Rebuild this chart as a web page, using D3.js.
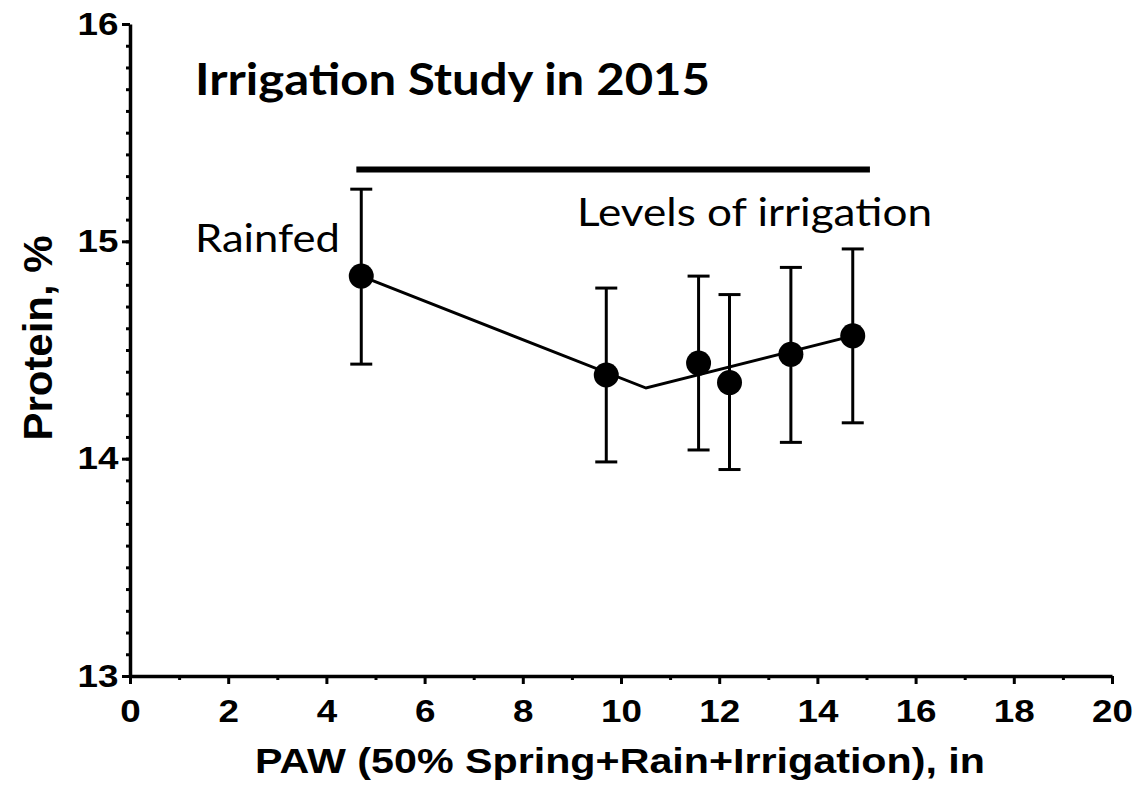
<!DOCTYPE html>
<html>
<head>
<meta charset="utf-8">
<script src="https://cdn.jsdelivr.net/npm/d3@7"></script>
<style>
  body { margin: 0; background: #fff; }
  .axis path, .axis line { stroke: #000; }
  .axis text { font-family: "Liberation Sans", Arial, sans-serif; font-weight: bold; fill: #000; }
</style>
</head>
<body>
<div class="center"></div>
<script>
// data
var paw     = [4.71, 9.70, 11.58, 12.21, 13.46, 14.72];
var protein = [14.84, 14.385, 14.44, 14.35, 14.48, 14.565];
var errLow  = [14.435, 13.985, 14.04, 13.95, 14.075, 14.165];
var errHigh = [15.24, 14.785, 14.84, 14.755, 14.88, 14.965];

// fitted linear-plateau line (breakpoint near 10.5)
var fitX = [4.71, 10.51, 14.72];
var fitY = [14.84, 14.325, 14.565];

// bar over the irrigated treatments
var barX = [4.61, 15.07];
var barY = 15.33;

var xTicks = [0, 2, 4, 6, 8, 10, 12, 14, 16, 18, 20];
var yTicks = [13, 14, 15, 16];

var width = 1138, height = 788;

var x = d3.scaleLinear().domain([0, 20]).range([130, 1112]);
var y = d3.scaleLinear().domain([13, 16]).range([676, 24]);

var svg = d3.select("div.center").append("svg")
    .attr("width", width)
    .attr("height", height);

// minor ticks
svg.append("g")
    .attr("class", "axis")
    .attr("transform", "translate(0," + y(13) + ")")
    .call(d3.axisBottom(x).tickValues(d3.range(1, 20, 2)).tickSize(4).tickFormat(""))
    .call(function(g) { g.select(".domain").remove(); })
    .selectAll("line").attr("stroke-width", 3);

svg.append("g")
    .attr("class", "axis")
    .attr("transform", "translate(" + x(0) + ",0)")
    .call(d3.axisLeft(y).tickValues(d3.range(13, 16.001, 0.1)).tickSize(4).tickFormat(""))
    .call(function(g) { g.select(".domain").remove(); })
    .selectAll("line").attr("stroke-width", 3);

// X axis
var xAxis = svg.append("g")
    .attr("class", "axis")
    .attr("transform", "translate(0," + y(13) + ")")
    .call(d3.axisBottom(x).tickValues(xTicks).tickSize(8).tickSizeOuter(0).tickPadding(15));
xAxis.select(".domain").attr("stroke-width", 3.5);
xAxis.selectAll("line").attr("stroke-width", 3);
xAxis.selectAll("text")
    .attr("font-size", 32)
    .attr("transform", "scale(1.15,1)");

// Y axis
var yAxis = svg.append("g")
    .attr("class", "axis")
    .attr("transform", "translate(" + x(0) + ",0)")
    .call(d3.axisLeft(y).tickValues(yTicks).tickSize(8).tickSizeOuter(0).tickPadding(2)
        .tickFormat(d3.format("d")));
yAxis.select(".domain").attr("stroke-width", 3.5);
yAxis.selectAll("line").attr("stroke-width", 3);
yAxis.selectAll("text")
    .attr("font-size", 32)
    .attr("transform", "scale(1.15,1)");

// axis titles
svg.append("text")
    .attr("x", 620)
    .attr("y", 773)
    .attr("text-anchor", "middle")
    .attr("textLength", 730)
    .attr("lengthAdjust", "spacingAndGlyphs")
    .style("font-family", "'Liberation Sans', Arial, sans-serif")
    .style("font-weight", "bold")
    .style("font-size", "35px")
    .text("PAW (50% Spring+Rain+Irrigation), in");

svg.append("text")
    .attr("transform", "translate(52,338) scale(1.18,1) rotate(-90)")
    .attr("text-anchor", "middle")
    .attr("textLength", 205)
    .attr("lengthAdjust", "spacingAndGlyphs")
    .style("font-family", "'Liberation Sans', Arial, sans-serif")
    .style("font-weight", "bold")
    .style("font-size", "35px")
    .text("Protein, %");

// title and annotations
svg.append("text")
    .attr("x", 195)
    .attr("y", 95)
    .attr("textLength", 515)
    .attr("lengthAdjust", "spacingAndGlyphs")
    .style("font-family", "Lato, 'Open Sans', sans-serif")
    .style("font-weight", "bold")
    .style("font-size", "44px")
    .text("Irrigation Study in 2015");

svg.append("text")
    .attr("x", 195)
    .attr("y", 252)
    .attr("textLength", 145)
    .attr("lengthAdjust", "spacingAndGlyphs")
    .style("font-family", "Lato, 'Open Sans', sans-serif")
    .style("font-size", "38px")
    .text("Rainfed");

svg.append("text")
    .attr("x", 577)
    .attr("y", 226)
    .attr("textLength", 355)
    .attr("lengthAdjust", "spacingAndGlyphs")
    .style("font-family", "Lato, 'Open Sans', sans-serif")
    .style("font-size", "38px")
    .text("Levels of irrigation");

// irrigation bar
svg.append("line")
    .attr("x1", x(barX[0]))
    .attr("x2", x(barX[1]))
    .attr("y1", y(barY))
    .attr("y2", y(barY))
    .attr("stroke", "#000")
    .attr("stroke-width", 6);

// fitted line
var fit = fitX.map(function(d, i) { return [d, fitY[i]]; });
svg.append("path")
    .datum(fit)
    .attr("fill", "none")
    .attr("stroke", "#000")
    .attr("stroke-width", 3)
    .attr("d", d3.line()
        .x(function(d) { return x(d[0]); })
        .y(function(d) { return y(d[1]); }));

// error bars
var data = paw.map(function(d, i) {
    return { paw: d, protein: protein[i], lo: errLow[i], hi: errHigh[i] };
});

var err = svg.selectAll("g.err")
    .data(data)
    .enter().append("g")
    .attr("class", "err")
    .attr("stroke", "#000")
    .attr("stroke-width", 3);

err.append("line")
    .attr("x1", function(d) { return x(d.paw); })
    .attr("x2", function(d) { return x(d.paw); })
    .attr("y1", function(d) { return y(d.lo); })
    .attr("y2", function(d) { return y(d.hi); });

err.append("line")
    .attr("x1", function(d) { return x(d.paw) - 11; })
    .attr("x2", function(d) { return x(d.paw) + 11; })
    .attr("y1", function(d) { return y(d.hi); })
    .attr("y2", function(d) { return y(d.hi); });

err.append("line")
    .attr("x1", function(d) { return x(d.paw) - 11; })
    .attr("x2", function(d) { return x(d.paw) + 11; })
    .attr("y1", function(d) { return y(d.lo); })
    .attr("y2", function(d) { return y(d.lo); });

// points
svg.selectAll("circle.dot")
    .data(data)
    .enter().append("circle")
    .attr("class", "dot")
    .attr("r", 12.5)
    .attr("cx", function(d) { return x(d.paw); })
    .attr("cy", function(d) { return y(d.protein); })
    .attr("fill", "#000");
</script>
</body>
</html>
